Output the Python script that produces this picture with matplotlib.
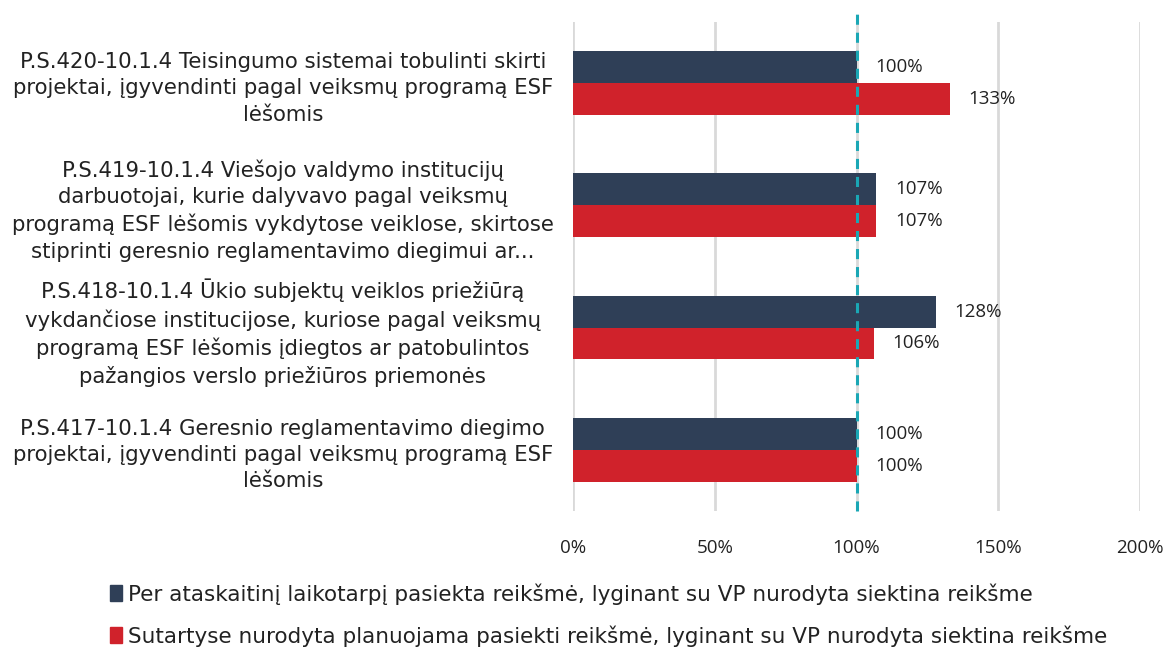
import numpy as np
import matplotlib
matplotlib.use('Agg')
import matplotlib.pyplot as plt
from matplotlib.patches import Patch

# data, bottom to top as drawn by barh
categories = [
    'P.S.417-10.1.4 Geresnio reglamentavimo diegimo\nprojektai, įgyvendinti pagal veiksmų programą ESF\nlėšomis',
    'P.S.418-10.1.4 Ūkio subjektų veiklos priežiūrą\nvykdančiose institucijose, kuriose pagal veiksmų\nprogramą ESF lėšomis įdiegtos ar patobulintos\npažangios verslo priežiūros priemonės',
    'P.S.419-10.1.4 Viešojo valdymo institucijų\ndarbuotojai, kurie dalyvavo pagal veiksmų\nprogramą ESF lėšomis vykdytose veiklose, skirtose\nstiprinti geresnio reglamentavimo diegimui ar...',
    'P.S.420-10.1.4 Teisingumo sistemai tobulinti skirti\nprojektai, įgyvendinti pagal veiksmų programą ESF\nlėšomis',
]
achieved = [100, 128, 107, 100]   # per ataskaitinį laikotarpį pasiekta
planned = [100, 106, 107, 133]    # sutartyse nurodyta planuojama
target = 100
series_names = [
    'Per ataskaitinį laikotarpį pasiekta reikšmė, lyginant su VP nurodyta siektina reikšme',
    'Sutartyse nurodyta planuojama pasiekti reikšmė, lyginant su VP nurodyta siektina reikšme',
]
xticks = [0, 50, 100, 150, 200]

navy = '#2f3f57'
red = '#d0222b'
teal = '#1aa7b5'

fig = plt.figure(figsize=(11.73, 6.48), dpi=100)
ax = fig.add_axes([0.4885, 0.2114, 0.4834, 0.755])

y = np.arange(len(categories))
h = 0.26
b1 = ax.barh(y + h / 2, achieved, height=h, color=navy, zorder=3)
b2 = ax.barh(y - h / 2, planned, height=h, color=red, zorder=3)

for bars in (b1, b2):
    for bar in bars:
        w = bar.get_width()
        ax.text(w + 6.5, bar.get_y() + bar.get_height() / 2, f'{w:.0f}%',
                va='center', ha='left', fontsize=13.5, family='Open Sans',
                color='#222222', zorder=5)

ax.axvline(target, ymin=0, ymax=1.02, color=teal, lw=2.2, ls=(0, (3.3, 2.6)),
           zorder=4, clip_on=False)

ax.set_xlim(0, 200)
ax.set_ylim(-0.5, len(categories) - 0.5)
ax.set_xticks(xticks)
ax.set_xticklabels([f'{t}%' for t in xticks], family='Open Sans', fontsize=13.5)
ax.xaxis.grid(True, color='#d9d9d9', lw=2, zorder=0)
ax.set_axisbelow(True)
for s in ax.spines.values():
    s.set_visible(False)
ax.tick_params(axis='x', length=0, pad=20, colors='#222222')

ax.set_yticks(y)
ax.set_yticklabels(categories, fontsize=15.3, color='#222222')
ax.tick_params(axis='y', length=0, pad=209)
for lab in ax.get_yticklabels():
    lab.set_ha('center')
    lab.set_multialignment('center')
    lab.set_linespacing(1.4)

handles = [Patch(color=navy), Patch(color=red)]
fig.legend(handles, series_names, loc='upper left', bbox_to_anchor=(0.077, 0.13),
           ncol=1, frameon=False, fontsize=15.5, handlelength=0.55, handleheight=0.8,
           handletextpad=0.3, labelspacing=0.95, labelcolor='#222222')

fig.savefig('out.png', dpi=100)
